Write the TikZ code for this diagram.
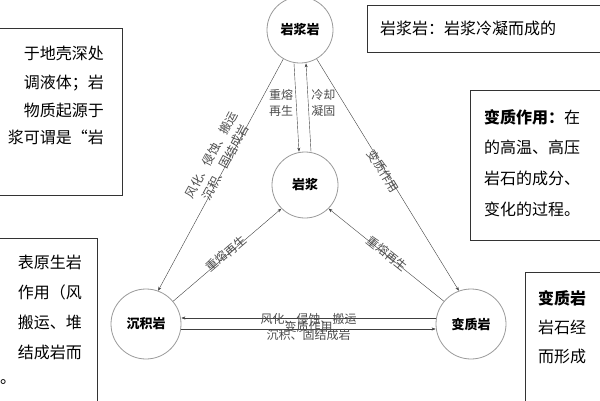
\documentclass[tikz,border=0pt]{standalone}
\usepackage{fontspec}
\setmainfont{Noto Sans CJK SC}
\usetikzlibrary{arrows.meta}
\begin{document}
\begin{tikzpicture}[x=1pt,y=-1pt,
                    rock node/.style={circle,draw=gray!80,thick,minimum size=66pt,inner sep=0pt,font=\bfseries\fontsize{13}{13}\selectfont},
                    link/.style={draw=black!75,-{Stealth[length=4pt,width=3pt]}},
                    note/.style={font=\fontsize{12}{16}\selectfont\color{black!70},inner sep=1pt},
                    info box/.style={draw=black!80,thick},
                    info text/.style={font=\fontsize{16}{16}\selectfont,inner sep=0pt}]

      \useasboundingbox (0,0) rectangle (600,400);

      % Define vertices
      \node[rock node] (M) at (300,30) {岩浆岩};
      \node[rock node] (J) at (305,185) {岩浆};
      \node[rock node,minimum size=70pt] (S) at (146,324) {沉积岩};
      \node[rock node,minimum size=70pt] (B) at (471,324) {变质岩};

      % Connectors
      \draw[link] (M.240) -- (S.70) node[pos=.45,sloped,above=-5pt,note,align=center] {风化、侵蚀、搬运\\沉积、固结成岩};
      \draw[link] (M.-60) -- (B.110) node[pos=.48,sloped,below=-5pt,note] {变质作用};
      \draw[link] ([xshift=-6pt]M.south) -- ([xshift=-6pt]J.north) node[pos=.45,left=2pt,note,align=center] {重熔\\再生};
      \draw[link] ([xshift=6pt]J.north) -- ([xshift=6pt]M.south) node[pos=.55,right=2pt,note,align=center] {冷却\\凝固};
      \draw[link] (S.40) -- (J.225) node[pos=.5,sloped,above=-5pt,note] {重熔再生};
      \draw[link] (B.140) -- (J.-45) node[pos=.5,sloped,above=-5pt,note] {重熔再生};
      \draw[link] ([yshift=-5pt]S.east) -- ([yshift=-5pt]B.west) node[pos=.5,above=-5pt,note] {变质作用};
      \draw[link] ([yshift=6pt]B.west) -- ([yshift=6pt]S.east) node[pos=.5,below=-6pt,note,align=center] {风化、侵蚀、搬运\\沉积、固结成岩};

      % Side boxes
      \draw[info box] (-5,28) rectangle (122,195);
      \foreach \t/\y in {于地壳深处/53,调液体；岩/83,物质起源于/110,浆可谓是“岩/137}
        \node[info text,anchor=east] at (104,\y) {\t};
      \draw[info box] (367,5) rectangle (605,52);
      \node[info text,anchor=west] (m text) at (380,28) {岩浆岩：岩浆冷凝而成的};
      \draw[info box] (470,90) rectangle (605,240);
      \node[info text,anchor=west] at (484,117) {\textbf{变质作用：}在};
      \foreach \t/\y in {的高温、高压/147,岩石的成分、/178,变化的过程。/209}
        \node[info text,anchor=west] at (484,\y) {\t};
      \draw[info box] (-5,238) rectangle (97,405);
      \foreach \t/\y in {表原生岩/262,作用（风/292,搬运、堆/322,结成岩而/352}
        \node[info text,anchor=east] at (82,\y) {\t};
      \node[info text,anchor=west] at (0,382) {。};
      \draw[info box] (525,272) rectangle (605,405);
      \node[info text,anchor=west] at (538,298) {\textbf{变质岩}};
      \foreach \t/\y in {岩石经/327,而形成/356}
        \node[info text,anchor=west] at (538,\y) {\t};

    \end{tikzpicture}
\end{document}
